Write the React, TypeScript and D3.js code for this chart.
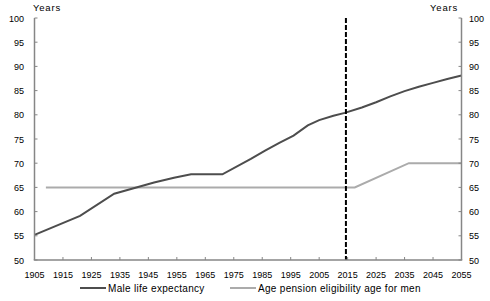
import React from "react";
import * as d3 from "d3";

const maleYears = [1905, 1921, 1933, 1947, 1954, 1960, 1971, 1981, 1986, 1991, 1996, 2001, 2005, 2010, 2014, 2020, 2025, 2030, 2035, 2040, 2045, 2050, 2055];
const maleLifeExpectancy = [55.2, 59.1, 63.7, 66.0, 67.0, 67.7, 67.7, 70.9, 72.6, 74.2, 75.7, 77.8, 78.9, 79.8, 80.4, 81.5, 82.6, 83.8, 84.9, 85.8, 86.6, 87.4, 88.1];

const pensionYears = [1909, 2017.5, 2036.5, 2055];
const pensionAge = [65, 65, 70, 70];

const projectionYear = 2014.4;

const xTicks = [1905, 1915, 1925, 1935, 1945, 1955, 1965, 1975, 1985, 1995, 2005, 2015, 2025, 2035, 2045, 2055];
const yTicks = [50, 55, 60, 65, 70, 75, 80, 85, 90, 95, 100];

const seriesNames = ["Male life expectancy", "Age pension eligibility age for men"];

const W = 490;
const H = 301;
const FONT = "'Liberation Sans', Arial, sans-serif";

export default function App() {
  const x = d3.scaleLinear().domain([1905, 2055]).range([34.5, 461.5]);
  const y = d3.scaleLinear().domain([50, 100]).range([260, 18]);

  const line = d3
    .line<[number, number]>()
    .x((d) => x(d[0]))
    .y((d) => y(d[1]));

  const maleData: [number, number][] = maleYears.map((yr, i) => [yr, maleLifeExpectancy[i]]);
  const pensionData: [number, number][] = pensionYears.map((yr, i) => [yr, pensionAge[i]]);

  const axisColor = "#868686";
  const maleColor = "#4d4d4d";
  const pensionColor = "#ababab";

  return (
    <svg
      width={W}
      height={H}
      style={{ position: "absolute", left: 0, top: 0, background: "#fff" }}
      fontFamily={FONT}
    >
      <rect x={0} y={0} width={W} height={H} fill="#fff" />
      {/* series */}
      <path d={line(pensionData) || ""} fill="none" stroke={pensionColor} strokeWidth={2} />
      <path d={line(maleData) || ""} fill="none" stroke={maleColor} strokeWidth={2} />
      {/* projection marker */}
      <line
        x1={x(projectionYear)}
        x2={x(projectionYear)}
        y1={y(100)}
        y2={y(50)}
        stroke="#000"
        strokeWidth={2}
        strokeDasharray="5,2"
      />
      {/* axes */}
      <line x1={x(1905)} x2={x(1905)} y1={y(100)} y2={y(50)} stroke={axisColor} strokeWidth={1.5} />
      <line x1={x(2055)} x2={x(2055)} y1={y(100)} y2={y(50)} stroke={axisColor} strokeWidth={1.5} />
      <line x1={x(1905) - 0.75} x2={x(2055) + 0.75} y1={y(50)} y2={y(50)} stroke={axisColor} strokeWidth={1.5} />
      {yTicks.map((t) => (
        <g key={"y" + t}>
          <line x1={x(1905)} x2={x(1905) + 3} y1={y(t)} y2={y(t)} stroke={axisColor} strokeWidth={1} />
          <line x1={x(2055) - 3} x2={x(2055)} y1={y(t)} y2={y(t)} stroke={axisColor} strokeWidth={1} />
          <text x={24} y={y(t) + 3.5} fontSize={9} textAnchor="end" fill="#000">
            {t}
          </text>
          <text x={469} y={y(t) + 3.5} fontSize={9} textAnchor="start" fill="#000">
            {t}
          </text>
        </g>
      ))}
      {xTicks.map((t) => (
        <g key={"x" + t}>
          <line x1={x(t)} x2={x(t)} y1={y(50)} y2={y(50) - 3} stroke={axisColor} strokeWidth={1} />
          <text x={x(t)} y={278} fontSize={9} textAnchor="middle" fill="#000">
            {t}
          </text>
        </g>
      ))}
      <text x={33} y={11} fontSize={9.5} letterSpacing={0.8} fill="#000">
        Years
      </text>
      <text x={458} y={11} fontSize={9.5} letterSpacing={0.8} textAnchor="end" fill="#000">
        Years
      </text>
      {/* legend */}
      <line x1={80} x2={106} y1={288} y2={288} stroke={maleColor} strokeWidth={2} />
      <text x={108} y={291.5} fontSize={10} letterSpacing={0.3} fill="#000">
        {seriesNames[0]}
      </text>
      <line x1={230} x2={256} y1={288} y2={288} stroke={pensionColor} strokeWidth={2} />
      <text x={258} y={291.5} fontSize={10} letterSpacing={0.3} fill="#000">
        {seriesNames[1]}
      </text>
    </svg>
  );
}
